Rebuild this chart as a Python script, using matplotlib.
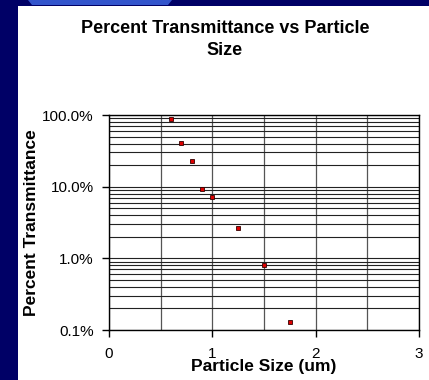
import matplotlib
matplotlib.use('Agg')
import matplotlib.pyplot as plt
from matplotlib.patches import Rectangle, Polygon
from matplotlib.ticker import FixedLocator, LogLocator, NullFormatter

plt.rcParams['font.family'] = ['Liberation Sans', 'DejaVu Sans']

# ── Data ──────────────────────────────────────────────────────────────────────
particle_size = [0.6, 0.7, 0.8, 0.9, 1.0, 1.25, 1.5, 1.75]
transmittance = [88.7, 41.1, 22.8, 9.2, 7.1, 2.68, 0.82, 0.129]   # percent
y_ticks = [0.1, 1, 10, 100]
y_labels = ['0.1%', '1.0%', '10.0%', '100.0%']
x_ticks = [0, 1, 2, 3]

fig = plt.figure(figsize=(4.29, 3.80), dpi=100)
fig.patch.set_facecolor('#000066')

# slide-style frame: navy border, lighter blue wedge at top, white panel
fig.patches.append(Polygon([(28 / 429, 1), (172 / 429, 1), (168 / 429, 1 - 5 / 380), (32 / 429, 1 - 5 / 380)],
                           closed=True, transform=fig.transFigure, facecolor='#3355cc',
                           edgecolor='none', zorder=-2))
fig.patches.append(Rectangle((18 / 429, 0), 1 - 18 / 429, 1 - 6 / 380, transform=fig.transFigure,
                             facecolor='white', edgecolor='none', zorder=-2))

ax = fig.add_axes([109 / 429, 1 - 330 / 380, 310 / 429, 215 / 380])
ax.set_facecolor('white')

ax.plot(particle_size, transmittance, linestyle='none', marker='s', markersize=3,
        markerfacecolor='#dd0000', markeredgecolor='#330000', markeredgewidth=0.6, zorder=5)

ax.set_yscale('log')
ax.set_xlim(0, 3)
ax.set_ylim(0.1, 100)

ax.yaxis.set_major_locator(FixedLocator(y_ticks))
ax.set_yticklabels(y_labels)
ax.yaxis.set_minor_locator(LogLocator(base=10, subs=range(2, 10)))
ax.yaxis.set_minor_formatter(NullFormatter())
ax.xaxis.set_major_locator(FixedLocator(x_ticks))
ax.set_xticklabels([str(v) for v in x_ticks])
ax.xaxis.set_minor_locator(FixedLocator([0.5, 1.5, 2.5]))

ax.grid(which='both', axis='y', color='#222222', lw=0.8)
ax.grid(which='both', axis='x', color='#555555', lw=0.9)
ax.tick_params(which='major', direction='out', length=5, width=1, color='black',
               labelsize=11)
ax.tick_params(axis='x', which='major', pad=7)
ax.tick_params(axis='y', which='major', pad=6)
ax.tick_params(which='minor', length=0)
for s in ax.spines.values():
    s.set_color('black')
    s.set_linewidth(1)

ax.set_xlabel('Particle Size (um)', fontsize=12.5, fontweight='bold', labelpad=-1)
ax.set_ylabel('Percent Transmittance', fontsize=12.5, fontweight='bold', labelpad=2)

fig.text(225 / 429, 1 - 39.5 / 380, 'Percent Transmittance vs Particle\nSize', ha='center', va='center',
         fontsize=13, fontweight='bold', linespacing=1.35)

fig.savefig('out.png', dpi=100, facecolor=fig.get_facecolor())
